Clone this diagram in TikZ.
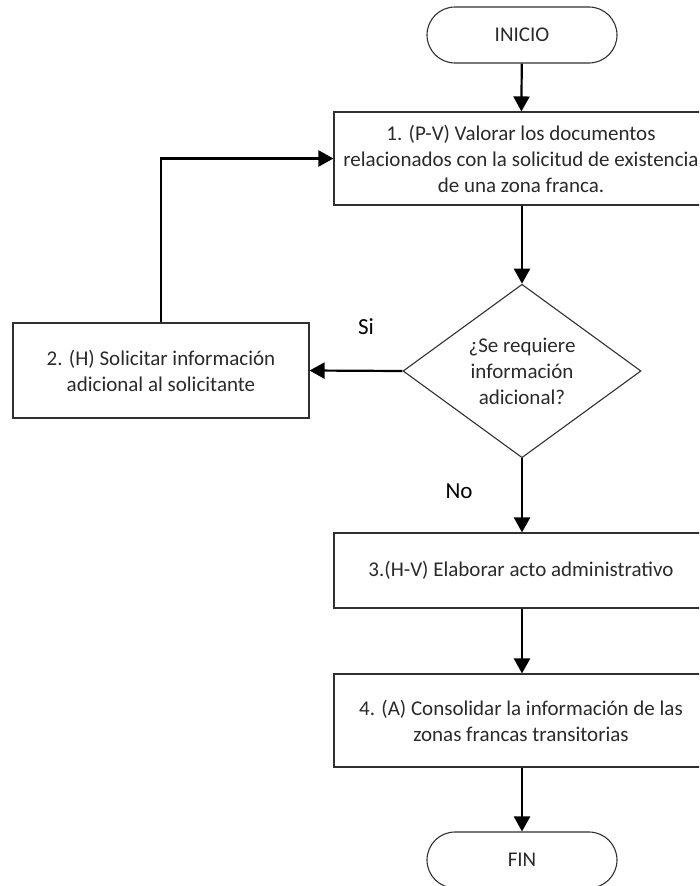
\documentclass[tikz,border=0pt]{standalone}
\usepackage{fontspec}
\setmainfont{Carlito}
\usetikzlibrary{shapes.geometric,arrows.meta}
\definecolor{txt}{HTML}{2A2A2A}
\definecolor{edge}{HTML}{303030}
\tikzset{
  base/.style={draw=edge, line width=1.1pt, text=txt, align=center, inner sep=0pt,
    font=\fontsize{21}{26}\selectfont},
  proc/.style={base, rectangle, minimum width=374pt},
  term/.style={base, rectangle, rounded corners=28pt, minimum width=190pt, minimum height=56pt},
  decide/.style={base, diamond, minimum width=238pt, minimum height=166pt},
  conn/.style={line width=2.2pt, -{Triangle[width=16pt,length=15pt]}},
  lbl/.style={font=\fontsize{23}{26}\selectfont, text=black, inner sep=0pt}
}
\begin{document}
\begin{tikzpicture}[x=1pt,y=-1pt]
\useasboundingbox (0,0) rectangle (699,886);
\clip (0,0) rectangle (699,886);
\node[term] (ini) at (522,35) {INICIO};
\node[proc, minimum height=93pt] (b1) at (521,158.5) {1. (P-V) Valorar los documentos\\relacionados con la solicitud de existencia\\de una zona franca.};
\node[decide] (dec) at (522,371) {¿Se requiere\\información\\adicional?};
\node[base, rectangle, minimum width=296pt, minimum height=95pt] (b2) at (161,370.5) {2. (H) Solicitar información\\adicional al solicitante};
\node[proc, minimum height=75pt] (b3) at (521,570.5) {3.(H-V) Elaborar acto administrativo};
\node[proc, minimum height=93pt] (b4) at (521,720.5) {4. (A) Consolidar la información de las\\zonas francas transitorias};
\node[term] (fin) at (522,860) {FIN};
\node[lbl] (si) at (366,327) {Si};
\node[lbl] (no) at (459,491) {No};
\draw[conn] (ini) -- (b1);
\draw[conn] (b1.south -| dec.north) -- (dec);
\draw[conn] (dec.west) -- (b2.east);
\draw[conn] (b2.north) |- (b1.west);
\draw[conn] (dec.south) -- (b3.north -| dec.south);
\draw[conn] (b3.south -| dec.south) -- (b4.north -| dec.south);
\draw[conn] (b4.south -| fin.north) -- (fin.north);
\end{tikzpicture}
\end{document}
